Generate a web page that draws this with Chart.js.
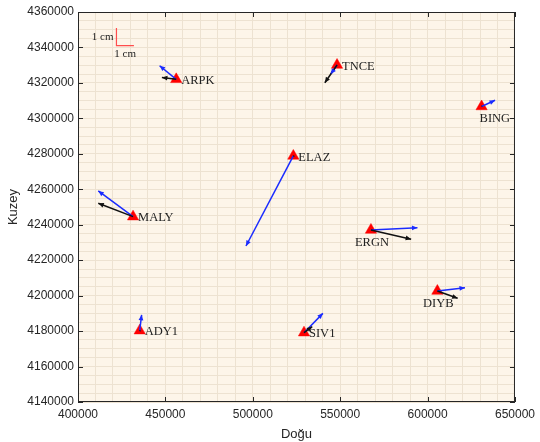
<!DOCTYPE html>
<html>
<head>
<meta charset="utf-8">
<script src="https://cdn.jsdelivr.net/npm/chart.js@4.4.1/dist/chart.umd.min.js"></script>
<style>
  html, body { margin: 0; padding: 0; background: #fff; }
  #wrap { width: 540px; height: 442px; }
</style>
</head>
<body>
<div id="wrap"><canvas id="velChart" width="540" height="442"></canvas></div>
<script>
// Station positions (UTM, m)
const stations = ['ARPK', 'TNCE', 'BING', 'ELAZ', 'MALY', 'ERGN', 'DIYB', 'ADY1', 'SIV1'];
const eastings = [456200, 548200, 630900, 523200, 431500, 567600, 605600, 435300, 529300];
const northings = [4322000, 4330100, 4306700, 4278800, 4244550, 4237050, 4202600, 4180250, 4179100];

// Velocity vectors, in cm on the map (east, north)
const blueEast = [-0.95, -0.36, 0.77, -2.71, -1.99, 2.66, 1.58, 0.11, 1.08];
const blueNorth = [0.77, -0.51, 0.35, -5.08, 1.45, 0.13, 0.19, 0.89, 1.09];
const blackEast = [-0.82, -0.70, 0.03, 0.02, -1.99, 2.30, 1.16, 0.01, 0.47];
const blackNorth = [0.11, -1.00, 0.02, 0.03, 0.76, -0.52, -0.41, 0.02, 0.34];

const xTicks = [400000, 450000, 500000, 550000, 600000, 650000];
const yTicks = [4140000, 4160000, 4180000, 4200000, 4220000, 4240000, 4260000, 4280000, 4300000, 4320000, 4340000, 4360000];

const cmToMap = 10000;           // 1 cm on the map = 10 km
const scaleBarCorner = [422000, 4341000];

// where the station name goes
const labelPlace = { BING: 'belowLeft', ERGN: 'below', DIYB: 'below' };

function arrowSet(ex, ny, color) {
    return stations.map((s, i) => ({
        label: s,
        data: [
            { x: eastings[i], y: northings[i] },
            { x: eastings[i] + ex[i] * cmToMap, y: northings[i] + ny[i] * cmToMap }
        ],
        showLine: true,
        borderColor: color,
        borderWidth: 1.5,
        pointRadius: 0,
        isArrow: true
    }));
}

const datasets = [].concat(
    arrowSet(blackEast, blackNorth, '#111111'),
    arrowSet(blueEast, blueNorth, '#1a2bff'),
    [{
        label: 'scale',
        data: [
            { x: scaleBarCorner[0], y: scaleBarCorner[1] + cmToMap },
            { x: scaleBarCorner[0], y: scaleBarCorner[1] },
            { x: scaleBarCorner[0] + cmToMap, y: scaleBarCorner[1] }
        ],
        showLine: true,
        borderColor: '#ff4d4d',
        borderWidth: 1.2,
        pointRadius: 0
    }, {
        label: 'stations',
        data: stations.map((s, i) => ({ x: eastings[i], y: northings[i] })),
        pointStyle: 'triangle',
        pointRadius: 6.5,
        backgroundColor: '#ff0000',
        borderColor: '#ff0000',
        borderWidth: 0.5,
        isStations: true
    }]
);

// cream plot background
const bgPlugin = {
    id: 'bg',
    beforeDraw(chart) {
        const a = chart.chartArea, c = chart.ctx;
        c.save();
        c.fillStyle = '#fdf5e9';
        c.fillRect(a.left, a.top, a.right - a.left, a.bottom - a.top);
        c.restore();
    }
};

// arrow heads, names, scale text, frame with inner ticks
const overlayPlugin = {
    id: 'overlay',
    afterDatasetsDraw(chart) {
        const c = chart.ctx;
        c.save();
        chart.data.datasets.forEach((ds, di) => {
            if (!ds.isArrow) return;
            const pts = chart.getDatasetMeta(di).data;
            const x0 = pts[0].x, y0 = pts[0].y, x1 = pts[1].x, y1 = pts[1].y;
            if (Math.hypot(x1 - x0, y1 - y0) < 4) return; // hidden under the marker
            const ang = Math.atan2(y1 - y0, x1 - x0);
            const len = 5.5, w = 2.4;
            c.fillStyle = ds.borderColor;
            c.beginPath();
            c.moveTo(x1, y1);
            c.lineTo(x1 - len * Math.cos(ang) + w * Math.sin(ang), y1 - len * Math.sin(ang) - w * Math.cos(ang));
            c.lineTo(x1 - len * Math.cos(ang) - w * Math.sin(ang), y1 - len * Math.sin(ang) + w * Math.cos(ang));
            c.closePath();
            c.fill();
        });
        c.restore();
    },
    afterDraw(chart) {
        const c = chart.ctx, a = chart.chartArea;
        const xs = chart.scales.x, ys = chart.scales.y;
        c.save();
        // station names
        c.font = '12.5px "Liberation Serif", "Times New Roman", serif';
        c.fillStyle = '#222';
        c.textBaseline = 'middle';
        stations.forEach((s, i) => {
            const px = xs.getPixelForValue(eastings[i]);
            const py = ys.getPixelForValue(northings[i]);
            const place = labelPlace[s];
            if (place === 'below') {
                c.textAlign = 'center';
                c.fillText(s, px + 1, py + 13);
            } else if (place === 'belowLeft') {
                c.textAlign = 'left';
                c.fillText(s, px - 2, py + 12);
            } else {
                c.textAlign = 'left';
                c.fillText(s, px + 5, py + 1.5);
            }
        });
        // scale bar labels
        const sx = xs.getPixelForValue(scaleBarCorner[0]);
        const sy = ys.getPixelForValue(scaleBarCorner[1]);
        const sLen = xs.getPixelForValue(scaleBarCorner[0] + cmToMap) - sx;
        c.font = '11px "Liberation Serif", "Times New Roman", serif';
        c.textAlign = 'right';
        c.fillText('1 cm', sx - 3, sy - sLen / 2);
        c.textAlign = 'center';
        c.fillText('1 cm', sx + sLen / 2, sy + 8);

        // frame and inward ticks
        c.strokeStyle = '#262626';
        c.lineWidth = 1;
        c.strokeRect(a.left + 0.5, a.top + 0.5, a.right - a.left - 1, a.bottom - a.top - 1);
        c.beginPath();
        xTicks.forEach(v => {
            const px = Math.round(xs.getPixelForValue(v)) + 0.5;
            c.moveTo(px, a.bottom); c.lineTo(px, a.bottom - 5);
            c.moveTo(px, a.top); c.lineTo(px, a.top + 5);
        });
        yTicks.forEach(v => {
            const py = Math.round(ys.getPixelForValue(v)) + 0.5;
            c.moveTo(a.left, py); c.lineTo(a.left + 5, py);
            c.moveTo(a.right, py); c.lineTo(a.right - 5, py);
        });
        c.stroke();
        c.restore();
    }
};

const tickFont = { family: '"Liberation Sans", Arial, sans-serif', size: 12 };

new Chart(document.getElementById('velChart'), {
    type: 'scatter',
    data: { datasets: datasets },
    options: {
        responsive: false,
        animation: false,
        layout: { padding: { left: 0, right: 23, top: 12, bottom: 0 } },
        plugins: { legend: { display: false }, tooltip: { enabled: false } },
        scales: {
            x: {
                type: 'linear',
                min: 400000,
                max: 650000,
                afterFit(scale) { scale.height = 40; },
                grid: { color: '#ede2d1', drawTicks: false, lineWidth: 1 },
                border: { display: false },
                ticks: {
                    stepSize: 10000,
                    autoSkip: false,
                    maxRotation: 0,
                    padding: 5,
                    color: '#262626',
                    font: tickFont,
                    callback: v => (xTicks.includes(v) ? String(v) : '')
                },
                title: { display: true, text: 'Doğu', color: '#262626', font: { family: tickFont.family, size: 13 }, padding: { top: 2, bottom: 0 } }
            },
            y: {
                type: 'linear',
                min: 4140000,
                max: 4360000,
                afterFit(scale) { scale.width = 78; },
                grid: { color: '#ede2d1', drawTicks: false, lineWidth: 1 },
                border: { display: false },
                ticks: {
                    stepSize: 5000,
                    autoSkip: false,
                    padding: 4,
                    color: '#262626',
                    font: tickFont,
                    callback: v => (yTicks.includes(v) ? String(v) : '')
                },
                title: { display: true, text: 'Kuzey', color: '#262626', font: { family: tickFont.family, size: 13 }, padding: { top: 6, bottom: 0 } }
            }
        }
    },
    plugins: [bgPlugin, overlayPlugin]
});
</script>
</body>
</html>
